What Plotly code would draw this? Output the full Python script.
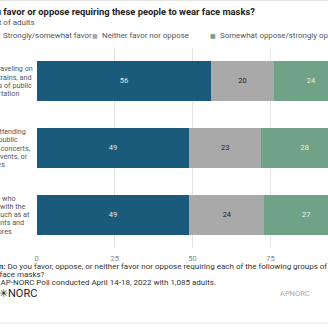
import plotly.graph_objects as go

# --- data -------------------------------------------------------------
group_lines = [
    ["Those traveling on", "planes, trains, and", "all forms of public", "transportation"],
    ["Those attending", "several public", "such as concerts,", "sports events, or", "festivities"],
    ["Workers who", "interact with the", "public, such as at", "restaurants and", "retail stores"],
]
groups = [" ".join(lines) for lines in group_lines]
series_names = ["Strongly/somewhat favor", "Neither favor nor oppose", "Somewhat oppose/strongly oppose"]
favor = [56, 49, 49]
neither = [20, 23, 24]
oppose = [24, 28, 27]
tick_values = [0, 25, 50, 75, 100]
tick_labels = ["0", "25", "50", "75", "100"]

title_text = "Do you favor or oppose requiring these people to wear face masks?"
subtitle_text = "Percent of adults"
footer_lines = [
    "<b>Question:</b> Do you favor, oppose, or neither favor nor oppose requiring each of the following groups of people",
    "to wear face masks?",
    "<b>Source:</b> AP-NORC Poll conducted April 14-18, 2022 with 1,085 adults.",
]

colors = ["#1a5a7b", "#a9a9a9", "#6fa287"]
label_colors = ["#e6e6e6", "#222222", "#eeeeee"]

W = H = 328
FONT = "Roboto"


def px(x):
    return x / W


def py(y):
    return 1 - y / H


fig = go.Figure()
values = [favor, neither, oppose]
for name, vals, col in zip(series_names, values, colors):
    fig.add_trace(go.Bar(
        y=groups, x=vals, name=name, orientation="h",
        marker=dict(color=col, line=dict(width=0)),
        showlegend=False, hoverinfo="skip",
    ))

# value labels centred in each segment
for k, vals in enumerate(values):
    mids = []
    for i in range(len(groups)):
        start = sum(values[j][i] for j in range(k))
        mids.append(start + vals[i] / 2)
    fig.add_trace(go.Scatter(
        x=mids, y=groups, mode="text", text=[str(v) for v in vals],
        textfont=dict(family=FONT, size=7.5, color=label_colors[k]),
        showlegend=False, hoverinfo="skip", cliponaxis=False,
    ))

annotations = []
left = -28  # left edge of the text column (px)

# category labels, one line at a time for tight leading
line_h = 8.3
for g, lines in zip(groups, group_lines):
    n = len(lines)
    for j, ln in enumerate(lines):
        annotations.append(dict(
            x=px(left), xref="paper", y=g, yref="y", xanchor="left", yanchor="middle",
            text=ln, showarrow=False, yshift=((n - 1) / 2 - j) * line_h,
            font=dict(family=FONT, size=7.2, color="#555555"),
        ))

annotations += [
    dict(x=px(256.5), y=py(11.5), xref="paper", yref="paper", xanchor="right", yanchor="middle",
         text="<b>" + title_text + "</b>", showarrow=False,
         font=dict(family=FONT, size=9.4, color="#222222")),
    dict(x=px(left), y=py(22.8), xref="paper", yref="paper", xanchor="left", yanchor="middle",
         text=subtitle_text, showarrow=False, font=dict(family=FONT, size=8, color="#555555")),
    dict(x=px(-3), y=py(293.5), xref="paper", yref="paper", xanchor="left", yanchor="middle",
         text="✳NORC", showarrow=False, font=dict(family=FONT, size=11, color="#222222")),
    dict(x=px(312), y=py(293.5), xref="paper", yref="paper", xanchor="right", yanchor="middle",
         text="APNORC", showarrow=False, font=dict(family=FONT, size=7.5, color="#aaaaaa")),
]

for ln, yy in zip(footer_lines, [266, 274.2, 282.4]):
    annotations.append(dict(
        x=px(left - 3), y=py(yy), xref="paper", yref="paper", xanchor="left", yanchor="middle",
        text=ln, showarrow=False, font=dict(family=FONT, size=8.0, color="#333333")))

# legend row
legend_pos = [(-4, 1), (94.7, 100), (213.3, 217.5)]
for (sq_x, tx_x), name, col in zip(legend_pos, series_names, colors):
    annotations.append(dict(
        x=px(sq_x), y=py(36), xref="paper", yref="paper", xanchor="center", yanchor="middle",
        text="■", showarrow=False, font=dict(family="DejaVu Sans", size=6, color=col)))
    annotations.append(dict(
        x=px(tx_x), y=py(36), xref="paper", yref="paper", xanchor="left", yanchor="middle",
        text=name, showarrow=False, font=dict(family=FONT, size=7.9, color="#555555")))

x0_px = 36.7
unit = 233.8 / 75
x_max = (W - x0_px) / unit

fig.update_layout(
    width=W, height=H, margin=dict(l=0, r=0, t=0, b=0),
    paper_bgcolor="white", plot_bgcolor="white",
    barmode="stack", bargap=0.4,
    annotations=annotations,
    xaxis=dict(domain=[px(x0_px), 1], range=[0, x_max], tickvals=tick_values, ticktext=tick_labels,
               showgrid=True, gridcolor="#e3e3e3", gridwidth=1, zeroline=False, showline=False,
               ticks="", ticklabelstandoff=4,
               tickfont=dict(family=FONT, size=7.5, color="#888888"), automargin=False,
               fixedrange=True),
    yaxis=dict(domain=[py(248), py(48)], autorange="reversed", showticklabels=False,
               showgrid=False, zeroline=False, showline=False, automargin=False, fixedrange=True),
    shapes=[
        dict(type="line", xref="paper", yref="paper", x0=0, x1=1, y0=py(0.5), y1=py(0.5),
             line=dict(color="#e6e6e6", width=1)),
        dict(type="line", xref="paper", yref="paper", x0=0, x1=1, y0=py(323), y1=py(323),
             line=dict(color="#e6e6e6", width=1)),
    ],
    showlegend=False,
)

fig.write_html("out.html", config={"displayModeBar": False})
